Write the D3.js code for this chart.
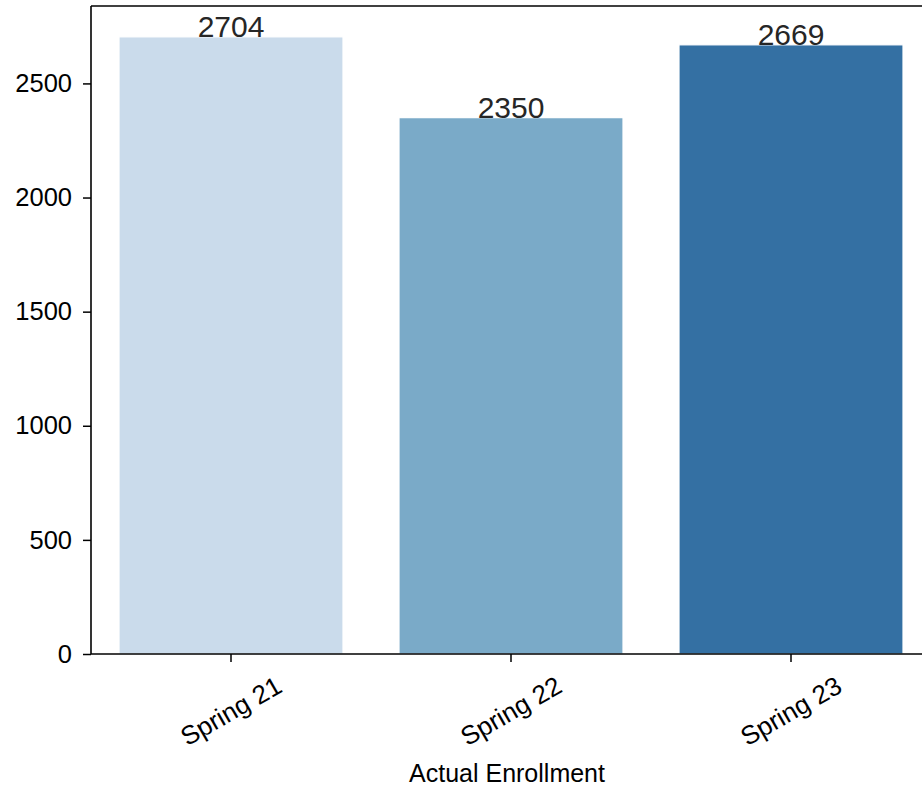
<!DOCTYPE html>
<html>
<head>
<meta charset="utf-8">
<script src="https://cdn.jsdelivr.net/npm/d3@7"></script>
<style>
  body { margin: 0; background: #fff; }
  svg { font-family: "Liberation Sans", Arial, sans-serif; }
</style>
</head>
<body>
<div class="d3-wrapper"></div>
<script>
// data
var terms = ["Spring 21", "Spring 22", "Spring 23"];
var enrollment = [2704, 2350, 2669];
var barColors = ["#cadbeb", "#7aaac8", "#3470a3"];
var yTicks = [0, 500, 1000, 1500, 2000, 2500];

var width = 922, height = 792;
var plotLeft = 91, plotBottom = 654, plotTop = 6, plotRight = 931;

var canvas = d3.select(".d3-wrapper").append("svg")
  .attr("width", width).attr("height", height);

var x = d3.scaleBand().domain(terms).range([plotLeft, plotRight])
  .paddingInner(0.2).paddingOuter(0.1);
var y = d3.scaleLinear().domain([0, d3.max(enrollment) * 1.05]).range([plotBottom, plotTop]);

// bars
canvas.selectAll("rect.bar").data(terms).enter().append("rect")
  .attr("class", "bar")
  .attr("x", function(d) { return x(d); })
  .attr("width", x.bandwidth())
  .attr("y", function(d, i) { return y(enrollment[i]); })
  .attr("height", function(d, i) { return plotBottom - y(enrollment[i]); })
  .attr("fill", function(d, i) { return barColors[i]; })
  .attr("stroke", "#fff").attr("stroke-width", 1.2);

// value labels
canvas.selectAll("text.val").data(terms).enter().append("text")
  .attr("class", "val")
  .attr("x", function(d) { return x(d) + x.bandwidth() / 2; })
  .attr("y", function(d, i) { return y(enrollment[i]); })
  .attr("text-anchor", "middle")
  .attr("font-size", 30)
  .attr("fill", "#262626")
  .text(function(d, i) { return enrollment[i]; });

// y axis
var yAxis = canvas.append("g").attr("transform", "translate(" + plotLeft + ",0)")
  .call(d3.axisLeft(y).tickValues(yTicks).tickFormat(d3.format("d")).tickSize(8).tickPadding(11));
yAxis.select(".domain").remove();
yAxis.selectAll("text").attr("font-size", 25.5).attr("fill", "#000").attr("font-family", null);
yAxis.selectAll("line").attr("stroke", "#000").attr("stroke-width", 1.5);

// x axis
var xAxis = canvas.append("g").attr("transform", "translate(0," + plotBottom + ")")
  .call(d3.axisBottom(x).tickSize(8).tickSizeOuter(0));
xAxis.select(".domain").remove();
xAxis.selectAll("line").attr("stroke", "#000").attr("stroke-width", 1.5);
xAxis.selectAll("text")
  .attr("font-size", 26).attr("fill", "#000").attr("font-family", null)
  .attr("y", 0).attr("dy", null)
  .attr("text-anchor", "middle")
  .attr("dominant-baseline", "central")
  .attr("transform", "translate(0,57) rotate(-30)");

// spines
canvas.append("line").attr("x1", plotLeft).attr("x2", plotLeft).attr("y1", plotTop).attr("y2", plotBottom)
  .attr("stroke", "#000").attr("stroke-width", 1.6);
canvas.append("line").attr("x1", plotLeft).attr("x2", plotRight).attr("y1", plotBottom).attr("y2", plotBottom)
  .attr("stroke", "#000").attr("stroke-width", 1.6);
canvas.append("line").attr("x1", plotLeft).attr("x2", plotRight).attr("y1", plotTop).attr("y2", plotTop)
  .attr("stroke", "#000").attr("stroke-width", 1.6);

// axis title
canvas.append("text")
  .attr("x", (plotLeft + plotRight) / 2 - 4).attr("y", 782)
  .attr("text-anchor", "middle").attr("font-size", 25).attr("fill", "#000")
  .text("Actual Enrollment");
</script>
</body>
</html>
